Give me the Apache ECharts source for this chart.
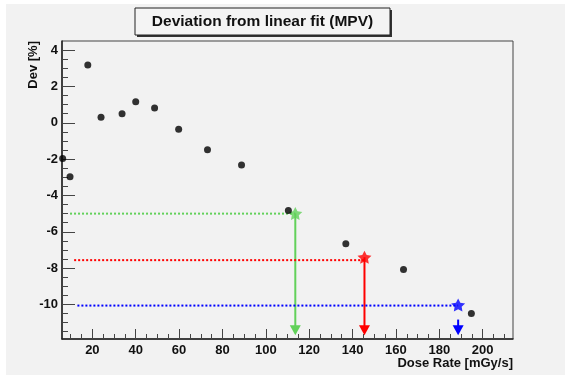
<!DOCTYPE html>
<html><head><meta charset="utf-8">
<script src="https://cdn.jsdelivr.net/npm/echarts@6/dist/echarts.min.js"></script>
<style>html,body{margin:0;padding:0;background:#fff}#c{width:565px;height:375px}</style>
</head><body><div id="c"></div>
<script>
// ---- data ----
const doseRate = [6.3, 9.7, 17.9, 24.0, 33.7, 40.0, 48.7, 59.8, 73.1, 88.8, 110.4, 136.9, 163.5, 194.8];
const deviation = [-1.96, -2.97, 3.18, 0.31, 0.50, 1.16, 0.81, -0.35, -1.49, -2.33, -4.83, -6.66, -8.07, -10.50];

// threshold markers (green, red, blue)
const thrColors = ['#62d15a', '#ff0000', '#0000ff'];
const thrLevel = [-5.0, -7.56, -10.06];     // dotted horizontal level
const thrStartX = [9.7, 11.6, 13.1];        // where the dotted line starts
const thrCrossX = [113.6, 145.5, 188.7];    // crossing dose rate (star / arrow x)
const thrStarY = [-4.99, -7.40, -10.03];    // star position
const thrArrowTop = [-4.99, -7.40, -10.83]; // vertical arrow start
const arrowTipY = -11.42;                   // arrow head centre

// ticks
const xMajorTicks = [20, 40, 60, 80, 100, 120, 140, 160, 180, 200];
const xMinorTicks = [10, 15, 25, 30, 35, 45, 50, 55, 65, 70, 75, 85, 90, 95, 105, 110, 115, 125, 130, 135, 145, 150, 155, 165, 170, 175, 185, 190, 195, 205, 210];
const yMajorTicks = [-10, -8, -6, -4, -2, 0, 2, 4];
const yMinorTicks = [-11.5, -11, -10.5, -9.5, -9, -8.5, -7.5, -7, -6.5, -5.5, -5, -4.5, -3.5, -3, -2.5, -1.5, -1, -0.5, 0.5, 1, 1.5, 2.5, 3, 3.5];

const titleText = 'Deviation from linear fit (MPV)';
const xTitle = 'Dose Rate [mGy/s]';
const yTitle = 'Dev [%]';

const FONT = 'Liberation Sans, Arial, Helvetica, sans-serif';
const STAR = 'path://M50,0 L64.7,29.8 L97.6,34.5 L73.8,57.7 L79.4,90.5 L50,75 L20.6,90.5 L26.2,57.7 L2.4,34.5 L35.3,29.8 Z';

const chart = echarts.init(document.getElementById('c'), null, {renderer: 'canvas'});

const labelStyle = {fontFamily: FONT, fontWeight: 'bold', fontSize: 13, color: '#111'};

const series = [];
thrColors.forEach((c, i) => {
  series.push({
    type: 'line', xAxisIndex: 0, yAxisIndex: 0, symbol: 'none', z: 3,
    data: [[thrStartX[i], thrLevel[i]], [thrCrossX[i], thrLevel[i]]],
    lineStyle: {color: c, width: 2, type: [2, 2]}
  });
  series.push({
    type: 'line', xAxisIndex: 0, yAxisIndex: 0, z: 3, showSymbol: true, symbol: 'none',
    data: [
      {value: [thrCrossX[i], thrArrowTop[i]], symbol: 'none'},
      {value: [thrCrossX[i], arrowTipY], symbol: 'triangle', symbolSize: [11, 10], symbolRotate: 180}
    ],
    itemStyle: {color: c},
    lineStyle: {color: c, width: 2}
  });
});
series.push({
  type: 'scatter', xAxisIndex: 0, yAxisIndex: 0, z: 4, symbol: STAR, symbolSize: [14, 13],
  data: thrColors.map((c, i) => ({value: [thrCrossX[i], thrStarY[i]], itemStyle: {color: c}}))
});
series.push({
  type: 'scatter', xAxisIndex: 0, yAxisIndex: 0, z: 5, symbol: 'circle', symbolSize: 7,
  itemStyle: {color: '#000'},
  data: doseRate.map((x, i) => [x, deviation[i]])
});

chart.setOption({
  animation: false,
  backgroundColor: '#ffffff',
  grid: {left: 62, top: 41, right: 52, bottom: 36, show: true, backgroundColor: '#f2f2f2', borderColor: '#444', borderWidth: 1},
  xAxis: [
    {type: 'value', min: 6, max: 214, position: 'bottom',
     axisLine: {show: true, onZero: false, lineStyle: {color: '#222', width: 1.5}},
     axisTick: {show: true, inside: true, length: 10, customValues: xMajorTicks, lineStyle: {color: '#444'}},
     axisLabel: Object.assign({customValues: xMajorTicks, margin: 5}, labelStyle),
     splitLine: {show: false}},
    {type: 'value', min: 6, max: 214, position: 'bottom',
     axisLine: {show: false, onZero: false},
     axisTick: {show: true, inside: true, length: 5, customValues: xMinorTicks, lineStyle: {color: '#444'}},
     axisLabel: {show: false}, splitLine: {show: false}}
  ],
  yAxis: [
    {type: 'value', min: -11.9, max: 4.5, position: 'left',
     axisLine: {show: true, onZero: false, lineStyle: {color: '#222', width: 1.5}},
     axisTick: {show: true, inside: true, length: 13, customValues: yMajorTicks, lineStyle: {color: '#444'}},
     axisLabel: Object.assign({customValues: yMajorTicks, margin: 4}, labelStyle),
     splitLine: {show: false}},
    {type: 'value', min: -11.9, max: 4.5, position: 'left',
     axisLine: {show: false, onZero: false},
     axisTick: {show: true, inside: true, length: 6, customValues: yMinorTicks, lineStyle: {color: '#444'}},
     axisLabel: {show: false}, splitLine: {show: false}}
  ],
  graphic: [
    {type: 'rect', z: -10, silent: true, shape: {x: 6, y: 4, width: 559, height: 371}, style: {fill: '#f2f2f2'}},
    {type: 'rect', z: 10, silent: true, shape: {x: 137, y: 10, width: 255, height: 27}, style: {fill: '#333'}},
    {type: 'rect', z: 11, silent: true, shape: {x: 135, y: 8, width: 255, height: 27}, style: {fill: '#f4f4f4', stroke: '#222', lineWidth: 1}},
    {type: 'text', z: 12, silent: true, x: 262.5, y: 21.5,
     style: {text: titleText, fill: '#111', font: 'bold 15.5px ' + FONT, textAlign: 'center', textVerticalAlign: 'middle'}},
    {type: 'text', z: 12, silent: true, x: 513, y: 363,
     style: {text: xTitle, fill: '#111', font: 'bold 13px ' + FONT, textAlign: 'right', textVerticalAlign: 'middle'}},
    {type: 'text', z: 12, silent: true, x: 33, y: 41, rotation: Math.PI / 2,
     style: {text: yTitle, fill: '#111', font: 'bold 13px ' + FONT, textAlign: 'right', textVerticalAlign: 'middle'}}
  ],
  series: series
});
</script>
</body></html>
